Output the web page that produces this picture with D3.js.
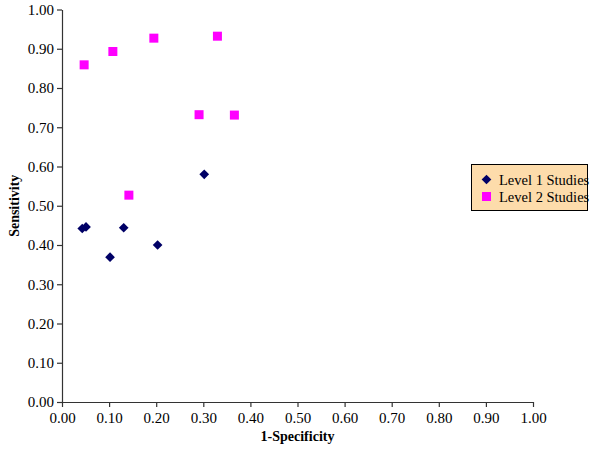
<!DOCTYPE html>
<html lang="en">
<head>
<meta charset="utf-8">
<style type="text/css">
    body { margin: 0; background: #fff; }
    text { font-family: "Liberation Serif", "Times New Roman", serif; fill: #000; }
    .axis path, .axis line { stroke: #333; stroke-width: 1.2px; }
    .axis text { font-size: 15px; }
</style>
</head>
<body>
<svg width="600" height="451"></svg>
<script src="https://cdn.jsdelivr.net/npm/d3@7/dist/d3.min.js"></script>
<script type="text/javascript">
    // Level 1 studies (1-specificity, sensitivity)
    var level1X = [0.043, 0.051, 0.131, 0.102, 0.203, 0.302];
    var level1Y = [0.442, 0.446, 0.444, 0.369, 0.400, 0.580];
    // Level 2 studies
    var level2X = [0.047, 0.108, 0.195, 0.330, 0.291, 0.366, 0.142];
    var level2Y = [0.859, 0.893, 0.927, 0.932, 0.732, 0.731, 0.527];
    var ticks = [0, 0.1, 0.2, 0.3, 0.4, 0.5, 0.6, 0.7, 0.8, 0.9, 1.0];
    var seriesNames = ["Level 1 Studies", "Level 2 Studies"];

    var svg = d3.select("svg");
    var plotLeft = 62, plotRight = 533, plotTop = 9.5, plotBottom = 402;

    var x = d3.scaleLinear().domain([0, 1]).range([plotLeft, plotRight]);
    var y = d3.scaleLinear().domain([0, 1]).range([plotBottom, plotTop]);

    svg.append("g")
        .attr("class", "axis")
        .attr("transform", "translate(0," + plotBottom + ")")
        .call(d3.axisBottom(x).tickValues(ticks).tickSize(5).tickSizeOuter(0).tickPadding(5).tickFormat(d3.format(".2f")));

    svg.append("g")
        .attr("class", "axis")
        .attr("transform", "translate(" + plotLeft + ",0)")
        .call(d3.axisLeft(y).tickValues(ticks).tickSize(5).tickSizeOuter(0).tickPadding(3).tickFormat(d3.format(".2f")));

    svg.selectAll(".axis text").attr("fill", "#000");

    svg.append("text")
        .attr("x", (plotLeft + plotRight) / 2)
        .attr("y", 441)
        .attr("text-anchor", "middle")
        .style("font-size", "14px")
        .style("font-weight", "bold")
        .text("1-Specificity");

    svg.append("text")
        .attr("transform", "translate(19," + (plotTop + plotBottom) / 2 + ") rotate(-90)")
        .attr("text-anchor", "middle")
        .style("font-size", "14px")
        .style("font-weight", "bold")
        .text("Sensitivity");

    var diamond = d3.symbol().type(d3.symbolDiamond2).size(60);

    svg.append("g").selectAll("path")
        .data(d3.range(level1X.length))
        .enter()
        .append("path")
        .attr("d", diamond)
        .attr("transform", function (i) {
            return "translate(" + x(level1X[i]) + "," + y(level1Y[i]) + ")";
        })
        .attr("fill", "#000066");

    svg.append("g").selectAll("rect")
        .data(d3.range(level2X.length))
        .enter()
        .append("rect")
        .attr("x", function (i) { return x(level2X[i]) - 4.5; })
        .attr("y", function (i) { return y(level2Y[i]) - 4.5; })
        .attr("width", 9)
        .attr("height", 9)
        .attr("fill", "#ff00ff");

    // legend
    var legend = svg.append("g").attr("transform", "translate(471.5,164.5)");
    legend.append("rect")
        .attr("width", 116)
        .attr("height", 46)
        .attr("fill", "#fddcab")
        .attr("stroke", "#000")
        .attr("stroke-width", 1);

    legend.append("path")
        .attr("d", diamond)
        .attr("transform", "translate(15,15)")
        .attr("fill", "#000066");
    legend.append("rect")
        .attr("x", 10.5).attr("y", 27.5)
        .attr("width", 9).attr("height", 9)
        .attr("fill", "#ff00ff");

    legend.selectAll(".lbl")
        .data(seriesNames)
        .enter()
        .append("text")
        .attr("class", "lbl")
        .attr("x", 27.5)
        .attr("y", function (d, i) { return 20 + i * 17; })
        .style("font-size", "14.5px")
        .text(function (d) { return d; });
</script>
</body>
</html>
